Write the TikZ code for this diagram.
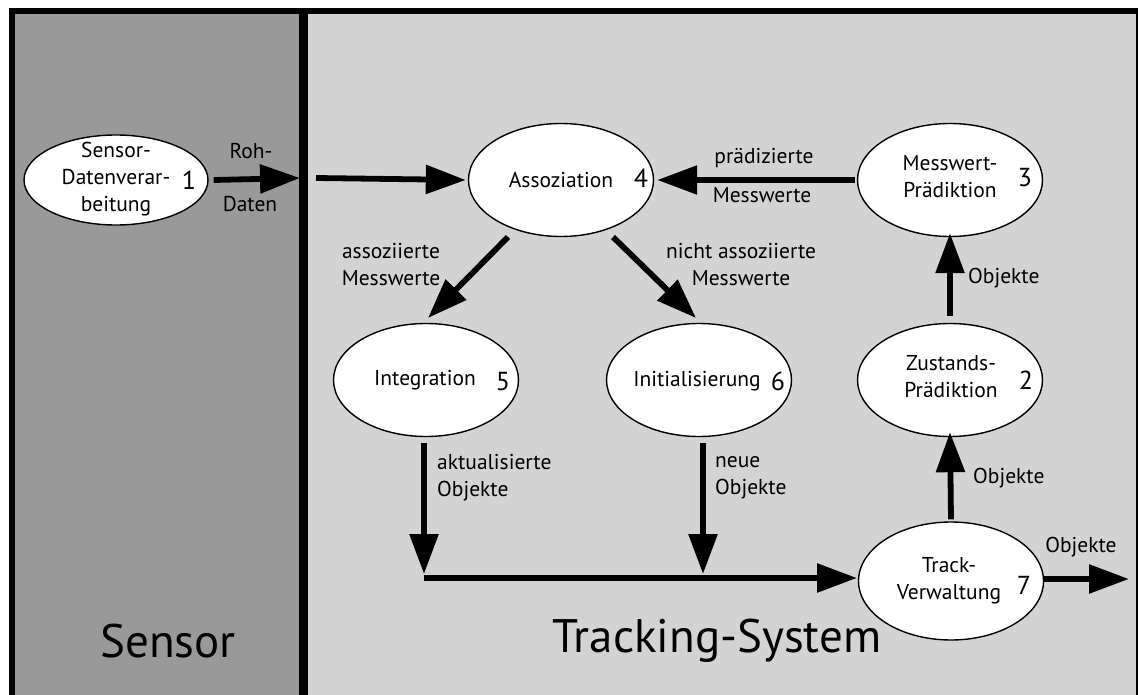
\documentclass[tikz,border=0pt]{standalone}
\usepackage{fontspec}
\setmainfont{PT Sans}
\usetikzlibrary{arrows.meta,shapes.geometric}
\definecolor{sensorgray}{HTML}{999999}
\definecolor{trackgray}{HTML}{D3D3D3}
\tikzset{
  proc/.style={ellipse,draw=black,line width=1.4pt,fill=white,minimum width=185pt,minimum height=113pt,inner sep=0pt},
  txt/.style={font=\fontsize{21.5}{27}\selectfont,align=center,inner sep=0pt},
  lbl/.style={font=\fontsize{21.5}{27}\selectfont,inner sep=0pt},
  num/.style={font=\fontsize{26}{28}\selectfont,inner sep=0pt},
  big/.style={font=\fontsize{47}{52}\selectfont,inner sep=0pt},
  arr/.style={line width=5.8pt,-{Triangle[length=40pt,width=28pt]}},
}
\begin{document}
\begin{tikzpicture}[x=1pt,y=-1pt]
\useasboundingbox (0,0) rectangle (1138,695);
% frame and panels
\fill[black] (9,8) rectangle (1146,710);
\fill[sensorgray] (15,14) rectangle (299,705);
\fill[trackgray] (308,14) rectangle (1136,705);

% process ellipses
\node[proc,minimum width=184pt,minimum height=90pt] (n1) at (116,180) {};
\node[proc] (n4) at (561,180) {};
\node[proc] (n3) at (950,180) {};
\node[proc] (n2) at (950,380) {};
\node[proc] (n5) at (426,380) {};
\node[proc] (n6) at (699,380) {};
\node[proc,minimum height=118pt] (n7) at (951,581) {};

% texts in ellipses
\node[txt] (t1) at (116,179) {Sensor-\\Datenverar-\\beitung};
\node[num] (k1) at (189,180) {1};
\node[txt] (t4) at (561,180) {Assoziation};
\node[num] (k4) at (641,178) {4};
\node[txt] (t3) at (950,177) {Messwert-\\Prädiktion};
\node[num] (k3) at (1025,178) {3};
\node[txt] (t2) at (951,377) {Zustands-\\Prädiktion};
\node[num] (k2) at (1026,380) {2};
\node[txt] (t5) at (425,380) {Integration};
\node[num] (k5) at (503,382) {5};
\node[txt] (t6) at (697,381) {Initialisierung};
\node[num] (k6) at (778,381) {6};
\node[txt] (t7) at (949,581) {Track-\\Verwaltung};
\node[num] (k7) at (1024,585) {7};

% free ends
\coordinate (div) at (300,178);
\coordinate (in4) at (316,178);
\coordinate (d1s) at (508,237);
\coordinate (d1e) at (428,318);
\coordinate (d2s) at (613,237);
\coordinate (d2e) at (696,318);
\coordinate (v1s) at (424,443);
\coordinate (v1e) at (424,574);
\coordinate (v2s) at (703,443);
\coordinate (v2e) at (703,574);
\coordinate (hs) at (424,578);
\coordinate (he) at (857,578);
\coordinate (outs) at (1044,579);
\coordinate (oute) at (1129,579);

% connectors
\draw[arr] ([xshift=5pt]n1.east) -- (div);
\draw[arr] (in4) -- ([xshift=-2pt]n4.west);
\draw[arr] ([xshift=-2pt]n3.west) -- ([xshift=3pt]n4.east);
\draw[arr] (d1s) -- (d1e);
\draw[arr] (d2s) -- (d2e);
\draw[arr] (v1s) -- (v1e);
\draw[arr] (v2s) -- (v2e);
\draw[arr] (hs) -- (he);
\draw[arr] ([yshift=7pt]n2.north) -- ([yshift=4pt]n3.south);
\draw[arr] ([yshift=2pt]n7.north) -- ([yshift=5pt]n2.south);
\draw[arr] (outs) -- (oute);

% connector labels
\node[lbl] (l1a) at (251,151) {Roh-};
\node[lbl] (l1b) at (250,204) {Daten};
\node[lbl] (l2a) at (764,158) {prädizierte};
\node[lbl] (l2b) at (762,195) {Messwerte};
\node[lbl,align=center] (l3) at (391,265) {assoziierte\\Messwerte};
\node[lbl,align=center] (l4) at (741,265) {nicht assoziierte\\Messwerte};
\node[lbl,align=left,anchor=west] (l5) at (437,478) {aktualisierte\\Objekte};
\node[lbl,align=left,anchor=west] (l6) at (715,478) {neue\\Objekte};
\node[lbl,anchor=west] (l7) at (968,278) {Objekte};
\node[lbl,anchor=west] (l8) at (973,478) {Objekte};
\node[lbl] (l9) at (1081,547) {Objekte};

% panel titles
\node[big] (s1) at (168,641) {Sensor};
\node[big] (s2) at (717,641) {Tracking-System};
\end{tikzpicture}
\end{document}
